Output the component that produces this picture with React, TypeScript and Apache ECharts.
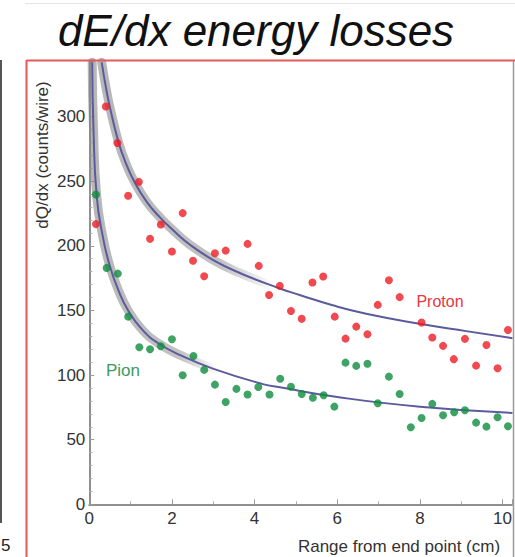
import React, { useEffect, useRef } from "react";
import * as echarts from "echarts";

// Measured proton hits: distance from end point (cm) and charge per wire
const protonX = [0.16, 0.40, 0.68, 0.94, 1.20, 1.47, 1.73, 2.00, 2.26, 2.51, 2.78, 3.04, 3.30, 3.83, 4.10, 4.35, 4.61, 4.88, 5.14, 5.40, 5.66, 5.94, 6.20, 6.46, 6.73, 6.98, 7.25, 7.51, 8.04, 8.30, 8.56, 8.82, 9.09, 9.36, 9.61, 9.88, 10.13];
const protonY = [216.8, 307.8, 279.5, 238.7, 249.5, 205.4, 216.5, 195.6, 225.3, 188.4, 176.5, 194.3, 196.3, 201.5, 184.5, 162.0, 169.0, 149.6, 143.5, 171.6, 176.2, 145.2, 128.2, 137.5, 131.6, 154.3, 173.4, 160.3, 140.6, 129.0, 122.6, 112.3, 128.0, 107.3, 123.3, 105.3, 134.9];

// Measured pion hits
const pionX = [0.16, 0.42, 0.69, 0.94, 1.21, 1.47, 1.73, 2.00, 2.26, 2.52, 2.78, 3.04, 3.30, 3.56, 3.83, 4.09, 4.36, 4.62, 4.88, 5.14, 5.41, 5.67, 5.93, 6.20, 6.46, 6.73, 6.98, 7.25, 7.51, 7.78, 8.04, 8.30, 8.56, 8.83, 9.09, 9.36, 9.61, 9.88, 10.13];
const pionY = [239.7, 182.9, 178.5, 145.2, 121.5, 120.0, 122.3, 127.7, 99.9, 114.8, 104.0, 92.6, 79.2, 89.3, 84.9, 90.8, 84.9, 97.2, 91.0, 85.4, 82.5, 84.4, 75.6, 109.6, 107.1, 108.8, 78.2, 98.8, 85.4, 59.6, 66.8, 77.7, 68.9, 71.2, 72.8, 63.2, 60.1, 67.4, 60.4];

// Expected dE/dx curves (sampled along each fit)
const protonFitX = [0.30, 0.40, 0.50, 0.70, 0.86, 1.10, 1.39, 1.71, 2.03, 2.43, 3.00, 3.64, 4.61, 5.09, 5.89, 6.70, 8.03, 9.12, 10.24];
const protonFitY = [342, 323, 307, 281, 266, 249, 234, 222, 212, 201, 189, 179, 167, 162, 154, 147.5, 139.5, 134, 128.5];
const pionFitX = [0.07, 0.10, 0.18, 0.34, 0.50, 0.70, 0.94, 1.27, 1.67, 2.23, 2.99, 4.20, 4.61, 6.00, 8.00, 10.24];
const pionFitY = [342, 292, 238, 205, 184, 166, 150, 135.5, 124.6, 115, 105, 93, 90.5, 83, 75.5, 70.7];

const xTicks = { min: 0, max: 10.23, interval: 2 };
const yTicks = { min: 0, max: 343, interval: 50 };

const FONT = "'Liberation Sans', Arial, Helvetica, sans-serif";

const zip = (xs: number[], ys: number[]) => xs.map((x, i) => [x, ys[i]]);

const bandColor = (fade: number) =>
  new echarts.graphic.LinearGradient(0, 0, 1, 0, [
    { offset: 0, color: "rgba(135,135,135,0.6)" },
    { offset: fade * 0.7, color: "rgba(135,135,135,0.5)" },
    { offset: fade, color: "rgba(135,135,135,0)" },
    { offset: 1, color: "rgba(135,135,135,0)" },
  ]);

export default function App() {
  const ref = useRef<HTMLDivElement>(null);

  useEffect(() => {
    if (!ref.current) return;
    const chart = echarts.init(ref.current, null, { renderer: "svg" });

    const axisCommon = {
      axisLine: { lineStyle: { color: "#8f8f8f", width: 2 } },
      axisTick: { inside: true, length: 5, lineStyle: { color: "#9a9a9a", width: 1 } },
      minorTick: { show: true, length: 3, lineStyle: { color: "#aaaaaa", width: 1 } },
      splitLine: { show: false },
      axisLabel: {
        color: "#333",
        fontSize: 17,
        fontFamily: FONT,
        showMaxLabel: false,
      },
    };

    const fitLine = (xs: number[], ys: number[], lineStyle: object, z: number) => ({
      type: "line",
      data: zip(xs, ys),
      smooth: 0.5,
      symbol: "none",
      silent: true,
      lineStyle,
      z,
    });

    chart.setOption({
      animation: false,
      backgroundColor: "#ffffff",
      grid: { left: 89.3, right: 2, top: 61, bottom: 52.7, containLabel: false },
      xAxis: {
        type: "value",
        ...xTicks,
        ...axisCommon,
        minorTick: { ...axisCommon.minorTick, splitNumber: 2 },
        axisLabel: { ...axisCommon.axisLabel, margin: 6 },
      },
      yAxis: {
        type: "value",
        ...yTicks,
        ...axisCommon,
        minorTick: { ...axisCommon.minorTick, splitNumber: 5 },
        axisLabel: { ...axisCommon.axisLabel, margin: 4 },
      },
      series: [
        fitLine(protonFitX, protonFitY, { width: 9, color: bandColor(0.42), cap: "round" }, 1),
        fitLine(pionFitX, pionFitY, { width: 9, color: bandColor(0.3), cap: "round" }, 1),
        fitLine(protonFitX, protonFitY, { width: 2, color: "#5b5b9d" }, 2),
        fitLine(pionFitX, pionFitY, { width: 2, color: "#5b5b9d" }, 2),
        {
          name: "Proton",
          type: "scatter",
          data: zip(protonX, protonY),
          symbolSize: 8,
          itemStyle: { color: "#ec1c24" },
          z: 3,
        },
        {
          name: "Pion",
          type: "scatter",
          data: zip(pionX, pionY),
          symbolSize: 8,
          itemStyle: { color: "#0e8c3e" },
          z: 3,
        },
      ],
      graphic: [
        { type: "line", shape: { x1: 25, y1: 3.5, x2: 515, y2: 3.5 }, style: { stroke: "#e4e4e4", lineWidth: 1 } },
        {
          type: "text",
          x: 256,
          y: 30,
          style: {
            text: "dE/dx energy losses",
            font: `italic 44px ${FONT}`,
            fill: "#111",
            textAlign: "center",
            textVerticalAlign: "middle",
          },
        },
        { type: "rect", shape: { x: 0, y: 60, width: 2, height: 463 }, style: { fill: "#555" } },
        {
          type: "text",
          x: 1,
          y: 545,
          style: { text: "5", font: `17px ${FONT}`, fill: "#222", textAlign: "left", textVerticalAlign: "middle" },
        },
        { type: "line", shape: { x1: 26.5, y1: 60.5, x2: 515, y2: 60.5 }, style: { stroke: "#e25a5a", lineWidth: 2 }, z: 10 },
        { type: "line", shape: { x1: 26.5, y1: 60, x2: 26.5, y2: 557 }, style: { stroke: "#e25a5a", lineWidth: 2 }, z: 10 },
        { type: "line", shape: { x1: 513.5, y1: 61, x2: 513.5, y2: 557 }, style: { stroke: "#9a9a9a", lineWidth: 1.5 }, z: 10 },
        {
          type: "text",
          x: 42,
          y: 155,
          rotation: Math.PI / 2,
          style: {
            text: "dQ/dx (counts/wire)",
            font: `17px ${FONT}`,
            fill: "#333",
            textAlign: "center",
            textVerticalAlign: "middle",
          },
        },
        {
          type: "text",
          x: 399,
          y: 546,
          style: {
            text: "Range from end point (cm)",
            font: `17px ${FONT}`,
            fill: "#333",
            textAlign: "center",
            textVerticalAlign: "middle",
          },
        },
        {
          type: "text",
          x: 440,
          y: 301,
          style: { text: "Proton", font: `16px ${FONT}`, fill: "#e8383d", textAlign: "center", textVerticalAlign: "middle" },
        },
        {
          type: "text",
          x: 123,
          y: 370,
          style: { text: "Pion", font: `17px ${FONT}`, fill: "#3d9a5e", textAlign: "center", textVerticalAlign: "middle" },
        },
      ],
    });

    return () => chart.dispose();
  }, []);

  return (
    <div
      ref={ref}
      style={{ position: "fixed", left: 0, top: 0, width: 515, height: 557, background: "#fff" }}
    />
  );
}
